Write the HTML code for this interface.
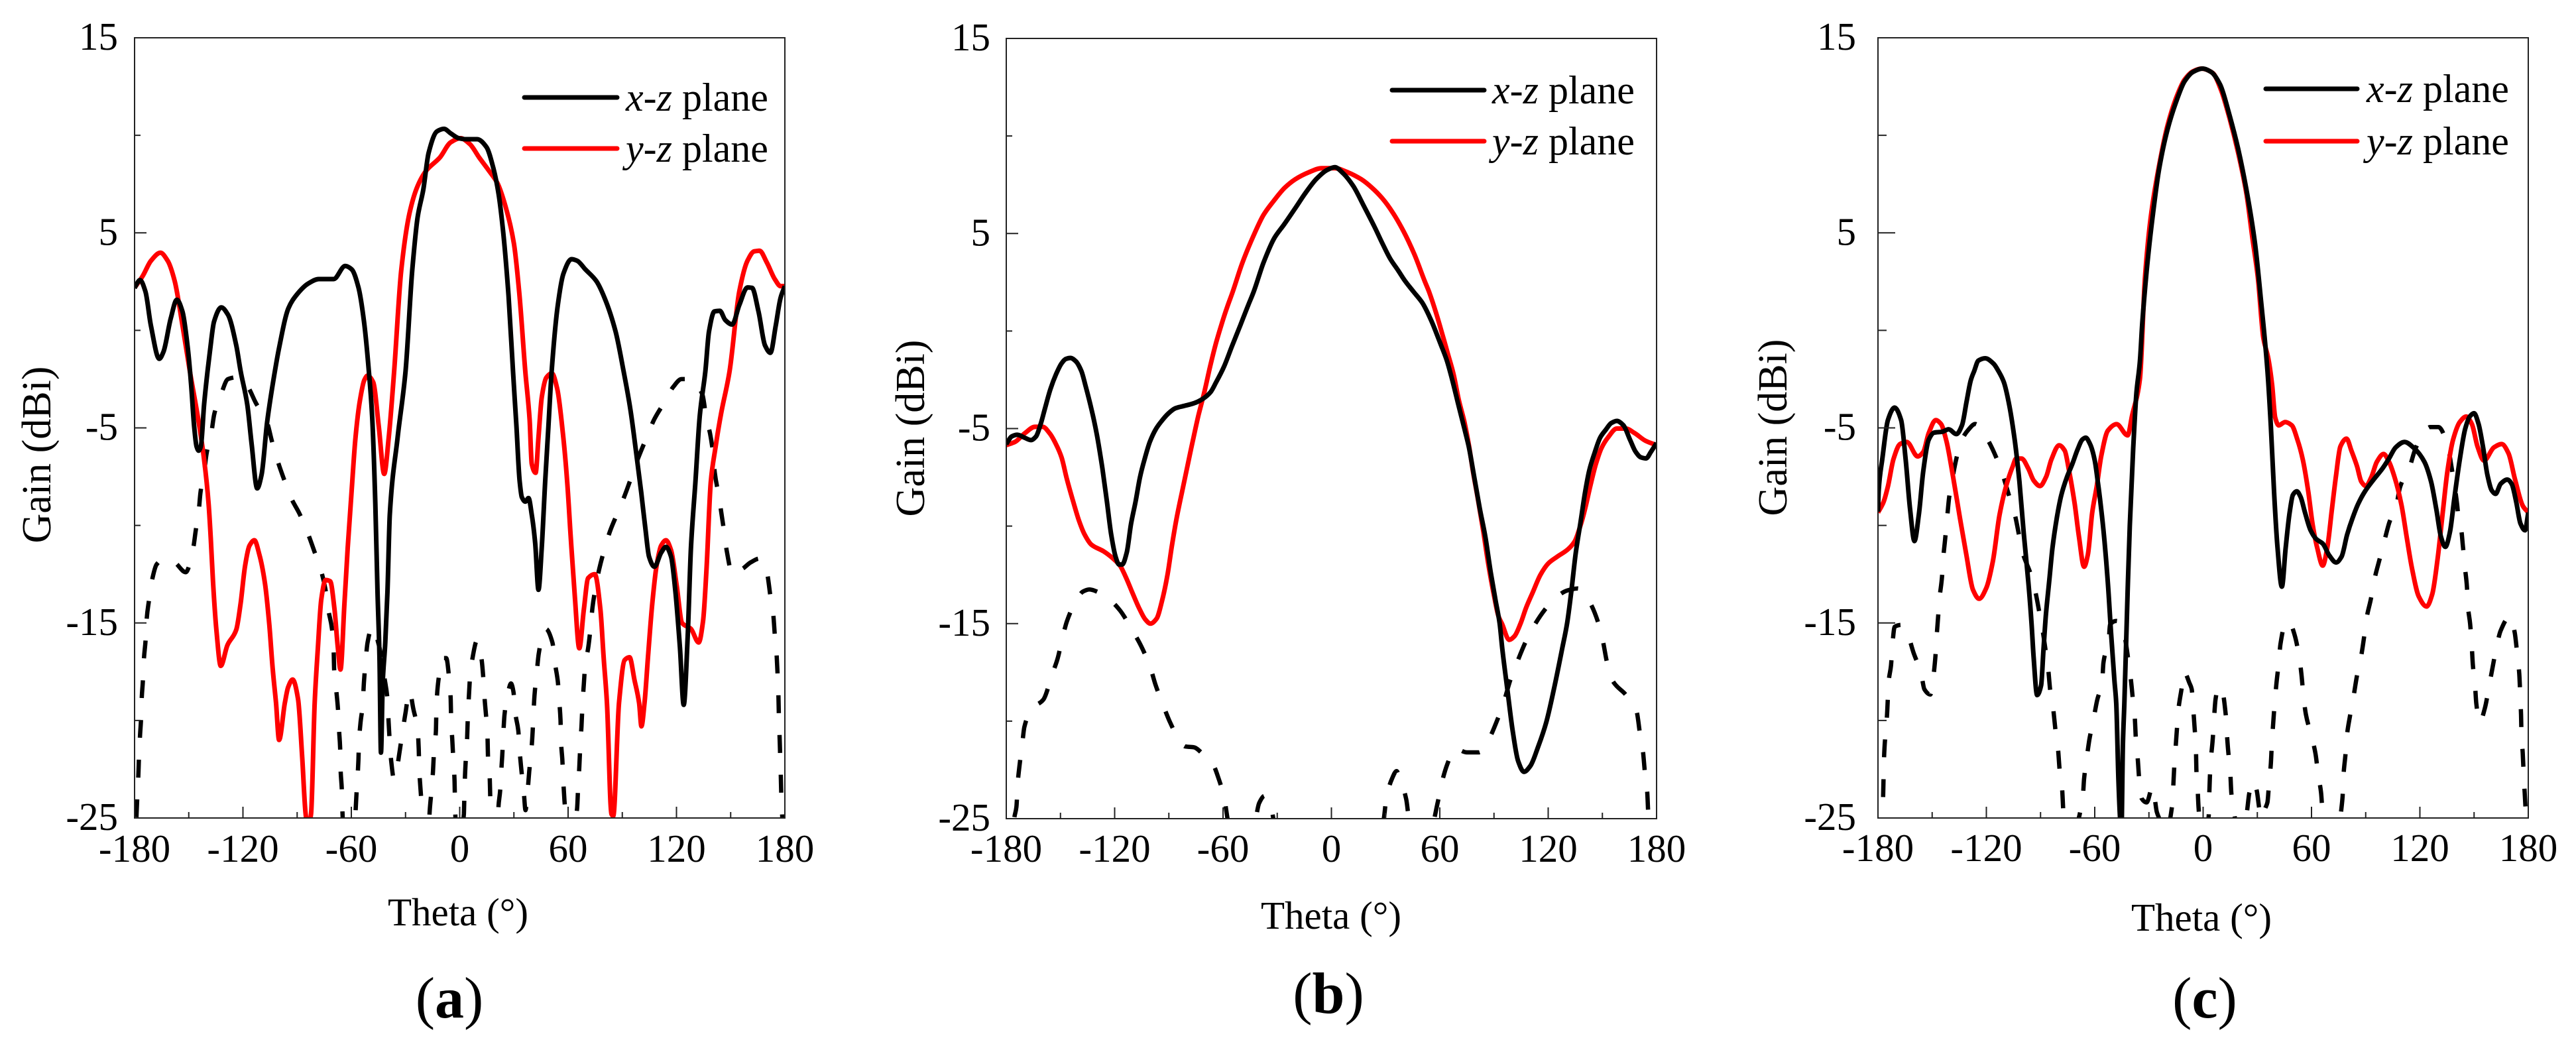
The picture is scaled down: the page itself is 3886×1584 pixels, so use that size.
<!DOCTYPE html>
<html lang="en">
<head>
<meta charset="utf-8">
<title>Gain patterns</title>
<style>
html,body{margin:0;padding:0;background:#fff;width:3886px;height:1584px;overflow:hidden}
svg{display:block}
text{font-family:"Liberation Serif","DejaVu Serif",serif;fill:#000}
</style>
</head>
<body>
<svg id="figure" xmlns="http://www.w3.org/2000/svg" width="3886" height="1584" viewBox="0 0 3886 1584"></svg>
<script>
const thetaTicks = [-180, -120, -60, 0, 60, 120, 180];
const thetaMinorTicks = [-150, -90, -30, 30, 90, 150];
const gainTicks = [15, 5, -5, -15, -25];
const gainMinorTicks = [10, 0, -10, -20];

const panelAXz = [[-180,2.18],[-177,2.58],[-174,2],[-171,0.27],[-166.3,-1.46],[-164,-1.1],[-160,0.6],[-156.6,1.57],[-153.5,0.97],[-150.5,-0.94],[-148.8,-2.66],[-147,-4.93],[-145.7,-5.95],[-144.5,-6.17],[-143.3,-5.95],[-141.5,-3.8],[-139.6,-2.09],[-138.3,-1.1],[-136,0.45],[-132,1.18],[-128.3,0.8],[-123.7,-0.77],[-121.3,-2.09],[-117.6,-3.8],[-115.2,-5.83],[-112.1,-8.1],[-109.7,-7.4],[-106.6,-4.7],[-102.3,-2.09],[-100,-0.9],[-94.8,1.14],[-90.2,1.83],[-84,2.39],[-78,2.63],[-69.8,2.63],[-63.4,3.3],[-59.8,3.13],[-56,2.18],[-53,0.45],[-50.3,-2.09],[-48.5,-4.36],[-46.7,-8.9],[-45.5,-13.4],[-44.4,-16.8],[-43.6,-21.65],[-42.6,-18],[-41.2,-16],[-40,-13.4],[-38.7,-9.46],[-34.4,-5.5],[-30,-2.09],[-26.3,3.05],[-23.3,5.8],[-20.2,7.2],[-17.2,9.1],[-12.6,10.2],[-8.7,10.33],[-5,10.1],[-0.5,9.85],[3.5,9.8],[9.6,9.8],[14.8,9.4],[18.4,8.4],[21.5,7],[24,5.1],[27,1.8],[29.5,-2.09],[31.4,-4.93],[33.2,-7.76],[34.4,-8.55],[36.3,-8.78],[38.1,-8.6],[39.9,-9.46],[41.8,-10.93],[43.6,-13.3],[45.4,-11.16],[47.3,-7.76],[49.1,-4.93],[50.9,-2.09],[54.3,1.3],[57.4,2.9],[61.9,3.65],[65,3.57],[69.5,3.13],[75.6,2.53],[80.2,1.66],[86.3,-0.07],[90.7,-2.09],[94.4,-4],[97.4,-6.06],[100.5,-8.33],[102.9,-10.25],[104.8,-11.6],[107.8,-12.12],[111.5,-11.4],[114.2,-11.1],[117,-11.6],[119.4,-13.4],[121.9,-16.25],[124,-19.2],[126.2,-15.7],[128,-11.16],[130.5,-7.76],[132.9,-4.36],[136,-2.09],[138,-0.07],[141,0.97],[144,1],[147,0.53],[150.8,0.3],[154.8,1.3],[159.3,2.2],[161.8,2.18],[165.4,0.97],[169,-0.77],[172,-1.15],[175,0.27],[177.6,1.66],[180,2.27]];
const panelAYz = [[-180,2.18],[-175.4,2.8],[-170.9,3.57],[-165.7,3.98],[-161.7,3.57],[-157.8,2.53],[-153.5,0.27],[-149.4,-2.09],[-144.5,-4.7],[-141.5,-6.63],[-139,-8.9],[-137.8,-10.7],[-136.6,-12.86],[-134.7,-15.35],[-132.3,-17.2],[-128.6,-16.14],[-123.7,-15.35],[-121.3,-14],[-118.8,-12.06],[-116.4,-11.04],[-113.7,-10.76],[-110.9,-11.5],[-107.8,-12.97],[-105.4,-15.1],[-103.5,-17.39],[-101.7,-19.1],[-100,-21],[-96.8,-19.1],[-95,-18.3],[-92.5,-17.9],[-89.5,-18.9],[-87.2,-21.9],[-85.3,-24.8],[-84.1,-25.5],[-82.3,-24.8],[-80.3,-19.1],[-78.5,-16.25],[-76.6,-13.76],[-74.2,-12.8],[-71.7,-12.86],[-69.3,-14.33],[-67.5,-16.25],[-66,-17.39],[-63.8,-14],[-62,-11.16],[-59.5,-7.76],[-57.7,-5.5],[-55.2,-3.57],[-52.8,-2.55],[-51,-2.32],[-47.9,-2.66],[-44.8,-4.93],[-41.8,-7.36],[-39.3,-5.5],[-36.3,-2.09],[-32.4,3.05],[-27.8,6],[-23.3,7.4],[-18.7,8.17],[-11,8.86],[-5,9.64],[0.5,9.85],[5.6,9.55],[10.8,8.86],[16.3,8.17],[20.8,7.56],[25.4,6.34],[30,4.44],[33,1.9],[36.3,-2.09],[38.7,-4.6],[39.9,-6.85],[42,-7.3],[43.6,-5.5],[45.4,-3.45],[47.9,-2.43],[51,-2.2],[54,-3],[57.1,-5.27],[59.5,-7.76],[61.3,-10.36],[63.8,-13.76],[66.2,-16.3],[68.7,-14.33],[71.1,-12.7],[74.8,-12.5],[77.9,-14.33],[79.7,-16.8],[81.5,-19.1],[84,-24.8],[85,-24.9],[88.2,-19.1],[91.3,-16.9],[94,-16.76],[96.8,-17.95],[99.3,-19.1],[100.6,-20.3],[102.3,-19.1],[104.2,-16.8],[106.6,-14],[109,-12.06],[111.5,-11.04],[114.2,-10.76],[117,-11.27],[120.1,-13.08],[123.1,-15],[128,-15.3],[132.3,-16],[134.7,-14.9],[136.6,-12.3],[139,-7.76],[141.5,-6.06],[144.5,-4.36],[149.4,-2.09],[154.8,2],[159.3,3.57],[163,4.05],[166,4.08],[170,3.48],[174.6,2.6],[177.6,2.27],[180,2.27]];
const panelACross = [[-179.6,-27],[-178.9,-24.8],[-177.9,-22.8],[-177.6,-22],[-177,-20.8],[-176.4,-19.9],[-176,-18.8],[-175.4,-18],[-174.8,-16.8],[-173.9,-15.9],[-173.3,-14.8],[-172.1,-13.9],[-170.3,-12.8],[-167.8,-12],[-163.3,-11.7],[-157.8,-11.9],[-151.7,-12.4],[-147.4,-11.1],[-146.2,-10.3],[-144.4,-9.2],[-143.5,-8.3],[-141.4,-7.2],[-140.1,-6.3],[-137.4,-5.2],[-135.9,-4.3],[-132.2,-3.3],[-128.3,-2.5],[-123.1,-2.4],[-117.6,-2.85],[-113,-3.7],[-106.4,-4.8],[-104.2,-5.6],[-100.6,-6.75],[-97.8,-7.5],[-93.3,-8.6],[-88.7,-9.4],[-84.1,-10.4],[-80.4,-11.35],[-76.5,-12.4],[-74.4,-13.25],[-72.6,-14.4],[-70.7,-15.3],[-69.8,-16.4],[-69.5,-17.4],[-68.3,-18.5],[-67.4,-19.4],[-66.8,-20.5],[-66.2,-21.4],[-65.9,-22.6],[-65.3,-23.5],[-65,-24.5],[-64.3,-25.7],[-61.3,-26.6],[-58.3,-25.7],[-57.3,-24],[-56.1,-22.1],[-55.8,-21.2],[-54.9,-20.1],[-53.7,-19.2],[-53,-18],[-52.2,-17.1],[-51,-16],[-48.5,-15.2],[-44.6,-16.2],[-41.5,-17.9],[-40,-18.9],[-39.4,-20],[-38.8,-21],[-37.9,-22.1],[-36.4,-23],[-34.8,-22.5],[-33.3,-21.6],[-31.5,-20.5],[-30,-19.6],[-27.8,-18.5],[-25.7,-19.4],[-23.3,-20.5],[-22.7,-21.4],[-22.4,-22.5],[-21.8,-23.4],[-20.9,-24.5],[-20.5,-25.1],[-18.7,-25.9],[-16.9,-25.1],[-16.6,-24.6],[-15.4,-23.4],[-14.8,-22.6],[-14.1,-21.4],[-13.2,-20.6],[-12.9,-19.4],[-12.4,-18.5],[-10.9,-17.4],[-9.6,-16.8],[-7.5,-16.8],[-5.6,-18.1],[-5,-18.9],[-4.7,-20.1],[-4.1,-21],[-3.5,-22.1],[-2.9,-23],[-2.6,-24.2],[-2.3,-25.1],[0.2,-25.9],[2.3,-24.8],[2.6,-23.8],[2.9,-22.9],[3.5,-21.8],[4.1,-20.9],[4.5,-19.8],[5,-18.9],[5.7,-17.8],[6.9,-16.9],[9.6,-15.9],[12,-16.8],[13.2,-18],[13.8,-18.9],[14.8,-20],[15.4,-20.9],[15.7,-22],[16.6,-22.9],[16.9,-24],[17.2,-25.1],[19.3,-25.7],[21.2,-25.1],[21.4,-24.5],[22.4,-23.6],[23,-22.6],[23.6,-21.7],[24.2,-20.6],[24.8,-19.7],[26.9,-18.5],[28.4,-18.1],[29.7,-18.5],[30.9,-19.7],[32.4,-20.5],[33.3,-21.7],[34.2,-22.6],[35.5,-23.7],[36.4,-24.6],[37.6,-23.6],[38.5,-22.6],[39.7,-21.5],[40.3,-20.7],[40.9,-19.5],[41.5,-18.6],[42.8,-17.4],[43.7,-16.6],[46.7,-15.4],[47.6,-15.3],[51.3,-16],[52.8,-17.1],[54.3,-18],[55.2,-19.1],[55.8,-20],[56.1,-21.1],[56.8,-22],[57.4,-23.2],[58,-24.1],[58.9,-25.1],[61,-26],[64.1,-25.1],[65,-24.5],[65.6,-23.3],[66.2,-22.4],[66.8,-21.2],[67.4,-20.3],[68,-19.1],[68.6,-18.3],[69.5,-17.1],[71.1,-16.3],[72.6,-15.1],[73.5,-14.2],[75.6,-13],[77.2,-12.25],[80.2,-11.2],[83.2,-10.3],[87.8,-9.27],[91.5,-8.43],[96,-7.27],[99,-6.5],[103.9,-5.4],[107.6,-4.58],[113.7,-3.63],[118.2,-2.9],[122.8,-2.5],[127.4,-2.5],[134.4,-3.3],[136.5,-4.5],[138.6,-5.3],[140.5,-6.5],[141.2,-7.3],[143.5,-8.5],[144.7,-9.27],[146.5,-10.4],[147.8,-11.3],[151,-12.5],[156.9,-12.2],[161,-11.9],[166,-11.7],[170,-12.4],[172.1,-13.7],[173.6,-14.6],[174.5,-15.7],[175.4,-16.6],[176,-17.7],[176.4,-18.6],[176.7,-19.8],[177,-20.6],[177.4,-21.8],[177.7,-22.6],[178,-23.8],[178.4,-24.6],[179,-26]];

const panelBXz = [[-180,-5.8],[-176.9,-5.4],[-173.9,-5.32],[-169.6,-5.48],[-166.3,-5.59],[-163.5,-5.4],[-161,-4.78],[-158.6,-3.98],[-155.5,-2.96],[-152.5,-2.23],[-149.4,-1.66],[-147,-1.43],[-144.5,-1.38],[-141.5,-1.55],[-138.4,-2.06],[-136,-2.85],[-132.9,-3.98],[-129.8,-5.34],[-126.8,-7.04],[-124.3,-8.74],[-121.9,-10.44],[-119.5,-11.57],[-117.6,-11.97],[-115.8,-11.97],[-113.3,-11.35],[-110.9,-9.87],[-108.4,-8.74],[-106,-7.5],[-103.5,-6.59],[-100.5,-5.68],[-97.4,-5.06],[-94.4,-4.66],[-90.1,-4.21],[-86.4,-3.96],[-82.1,-3.85],[-76,-3.7],[-71.1,-3.47],[-66.9,-3.13],[-63.8,-2.62],[-59.5,-1.83],[-55.2,-0.81],[-50.3,0.32],[-46,1.34],[-43,2.02],[-37.6,3.5],[-31.7,4.75],[-25.9,5.5],[-20,6.3],[-14.2,7.1],[-8.3,7.8],[-2.5,8.25],[1.9,8.4],[6.3,8.1],[12.1,7.43],[18,6.4],[23.8,5.35],[28.2,4.5],[32.6,3.7],[37,3.1],[40.5,2.6],[45.4,2.02],[50.3,1.45],[55.2,0.55],[60.1,-0.59],[63.8,-1.49],[66.9,-2.51],[69.9,-3.64],[73.6,-5],[76,-5.91],[79.1,-7.5],[82.1,-9.08],[85.2,-10.55],[88.2,-12.37],[90.7,-13.73],[93.1,-14.97],[94.6,-16.3],[97.5,-18.45],[100.5,-20.6],[103.4,-22.06],[106.6,-22.6],[110.1,-22.3],[114.5,-21.3],[118.9,-20.07],[123.3,-18.3],[127.7,-16.3],[130.5,-14.97],[132.9,-13.27],[135.3,-11.35],[137.8,-9.87],[140.2,-8.4],[142.7,-7.16],[145.7,-6.25],[148.8,-5.46],[151.9,-5.06],[154.9,-4.72],[158,-4.61],[161.6,-4.83],[165.3,-5.57],[168.4,-6.19],[171.4,-6.48],[174.2,-6.53],[176.9,-6.19],[180,-5.74]];
const panelBYz = [[-180,-5.85],[-175.1,-5.68],[-169.6,-5.23],[-164.1,-4.91],[-159.8,-4.91],[-156.1,-5.23],[-152.5,-5.8],[-149.4,-6.48],[-146.4,-7.61],[-143.3,-8.63],[-139.6,-9.76],[-136.6,-10.44],[-132.9,-10.95],[-126.2,-11.29],[-121.3,-11.63],[-117,-12.03],[-113.9,-12.6],[-110.3,-13.39],[-106.6,-14.18],[-102.9,-14.8],[-100.2,-15],[-96.8,-14.75],[-93.8,-13.84],[-90.7,-12.48],[-88.3,-11],[-85.8,-9.65],[-82.8,-8.29],[-79.7,-6.93],[-76.6,-5.57],[-73.6,-4.32],[-70.5,-3.19],[-66.9,-1.72],[-63.8,-0.59],[-60.7,0.38],[-57.7,1.23],[-54.6,2.02],[-49.3,3.5],[-43.4,4.83],[-37.6,5.95],[-31.7,6.7],[-25.9,7.34],[-20,7.78],[-12.7,8.13],[-5.4,8.35],[1.9,8.35],[9.2,8.13],[16.5,7.78],[22.4,7.35],[28.2,6.8],[34.1,6.05],[40,5.1],[45.8,3.96],[51.6,2.57],[54,2.02],[57.7,1],[61.3,-0.13],[64.4,-1.15],[67.5,-2.17],[70.5,-3.53],[73.6,-4.66],[76,-5.8],[78.5,-7.27],[80.9,-8.52],[84,-10.22],[87,-12.03],[90.1,-13.6],[92.5,-14.63],[94.4,-15],[98.4,-15.83],[101.3,-15.65],[104.8,-14.97],[107.8,-14.18],[111.5,-13.39],[115.8,-12.48],[120.1,-11.91],[125,-11.57],[131.1,-11.18],[134.7,-10.78],[137.8,-9.99],[140.2,-9.2],[143.3,-7.95],[146.4,-6.82],[149.4,-6.02],[153.1,-5.46],[158,-5],[162.9,-5],[167.8,-5.23],[173.9,-5.63],[180,-5.85]];
const panelBCross = [[-177.5,-29],[-175.6,-25],[-174.4,-24.4],[-173.6,-23.1],[-172.7,-22.3],[-171.2,-21.2],[-170,-20.3],[-165.7,-19.35],[-159.5,-18.9],[-154.6,-17.6],[-151.6,-16.8],[-148.7,-15.65],[-146.4,-14.87],[-141.4,-13.84],[-137.6,-13.36],[-134,-13.25],[-128.8,-13.4],[-123,-13.75],[-117,-14.33],[-110,-15.38],[-105.4,-16.14],[-100.2,-17.27],[-97.5,-18.1],[-93.1,-19.2],[-89.6,-20],[-84.4,-20.94],[-80.9,-21.3],[-76.2,-21.34],[-71,-21.7],[-65.9,-22.15],[-62.4,-22.96],[-59.2,-24],[-57.5,-25],[-55,-26],[-48,-26.2],[-43,-25.5],[-40,-24.2],[-37,-23.83],[-34,-24.2],[-30,-26],[0,-29],[25,-26],[29,-25],[30.3,-24],[33.5,-22.96],[36.1,-22.56],[37.9,-22.96],[41.4,-24],[42.9,-25],[45.8,-26],[54.5,-25.7],[59,-24.1],[61,-23.2],[64.2,-22.2],[68.3,-21.4],[75,-21.6],[81.7,-21.6],[86.7,-21],[92,-19.9],[95.5,-19],[99,-17.9],[102.3,-17.1],[107.2,-16],[111,-15.3],[118,-14.3],[123.8,-13.7],[130.6,-13.3],[136.4,-13.2],[139.4,-13.4],[143.2,-13.93],[148.2,-15.1],[150.3,-15.9],[152.6,-17],[155.5,-17.9],[163.4,-18.7],[167.1,-19.26],[168.9,-19.5],[170.9,-20.7],[172.4,-21.5],[173.6,-22.7],[174.8,-23.6],[175.4,-24.8],[176.5,-27]];

const panelCXz = [[-180,-9.3],[-179.6,-8.2],[-177.6,-6.6],[-174.5,-4.6],[-170.8,-3.96],[-167.2,-4.6],[-164.7,-6.6],[-162.3,-9.1],[-159.8,-10.8],[-157.4,-9.46],[-154.9,-7.2],[-151.9,-5.6],[-148.8,-5.24],[-144.5,-5.2],[-140.9,-5.07],[-136.6,-5.32],[-133.5,-4.87],[-131,-3.68],[-128.6,-2.55],[-126.8,-2.1],[-124.4,-1.55],[-120.6,-1.43],[-115.9,-1.72],[-113.3,-2.09],[-110.3,-2.66],[-107.2,-3.9],[-104.2,-5.7],[-101.7,-7.76],[-99.3,-10.4],[-96.8,-12.86],[-95,-15],[-93.8,-16.8],[-91.9,-18.7],[-89.7,-18.2],[-88.3,-16.25],[-87,-14.55],[-85.2,-12.86],[-83.4,-11.16],[-80.9,-9.57],[-78.5,-8.44],[-75.4,-7.53],[-72.4,-6.85],[-69.3,-6.06],[-66.9,-5.6],[-65,-5.5],[-62.6,-5.83],[-60.1,-6.62],[-58.3,-7.76],[-56.5,-9.1],[-54.6,-10.8],[-52.8,-12.86],[-51,-15.46],[-49.1,-17.95],[-48.1,-19.1],[-46.9,-23],[-46,-25],[-45.3,-26],[-44.4,-21.2],[-43.6,-19.1],[-41.8,-13.4],[-40.6,-10],[-38.7,-6.06],[-36.9,-3.2],[-35,-1.6],[-33.75,0.27],[-31.25,3.05],[-28,5.8],[-24.4,8.25],[-19.7,10.3],[-15,11.7],[-10.3,12.76],[-5.6,13.25],[-0.3,13.42],[4.4,13.25],[9.4,12.6],[14.7,11],[19.4,9.3],[24,7.2],[28.75,4.44],[31.9,1.66],[35.65,-2.09],[37.5,-4.93],[39.3,-8.33],[41.2,-11.16],[43.6,-13.14],[45.7,-11.16],[47.9,-9.34],[49.7,-8.44],[51.8,-8.25],[54,-8.55],[56.4,-9.34],[59.5,-10.25],[62.6,-10.7],[66.2,-10.93],[69.9,-11.55],[73.6,-11.9],[76.6,-11.61],[79.7,-10.48],[82.7,-9.63],[85.8,-8.9],[89.5,-8.27],[94.4,-7.65],[99.3,-7.08],[102.9,-6.57],[106.6,-6],[111.5,-5.72],[117,-6.06],[122.5,-6.74],[126.2,-7.76],[129.2,-9.23],[131.7,-10.6],[134.1,-11.1],[136.6,-10.36],[139,-8.66],[142.1,-6.62],[145.1,-5.04],[147.6,-4.42],[150,-4.25],[152.5,-4.81],[154.9,-5.95],[157.4,-7.42],[159.8,-8.21],[161.9,-8.38],[164.7,-7.87],[168.4,-7.65],[170.8,-7.87],[173.3,-8.78],[175.7,-9.91],[178.2,-10.25],[180,-9.34]];
const panelCYz = [[-180,-9.34],[-176.9,-8.8],[-174.5,-8],[-171.4,-6.6],[-167.8,-5.83],[-164.1,-5.72],[-158,-6.46],[-154.9,-6.23],[-151.9,-5.27],[-148,-4.6],[-145.1,-4.8],[-142,-5.72],[-138.4,-7.53],[-134.7,-9.57],[-131.1,-11.5],[-127.4,-13.3],[-124,-13.76],[-120,-13.2],[-116.4,-11.84],[-112.7,-9.46],[-109.1,-8],[-105.4,-6.97],[-103.5,-6.57],[-100.5,-6.57],[-96.8,-7.08],[-93.8,-7.7],[-90.3,-7.98],[-87,-7.53],[-84,-6.62],[-79.7,-5.89],[-76.6,-6.17],[-74.2,-7.2],[-71.1,-8.9],[-68.7,-10.6],[-65.9,-12.12],[-63.8,-11.5],[-61.4,-9.34],[-58.9,-8],[-56.5,-6.5],[-52.8,-5.15],[-47.9,-4.81],[-41.8,-5.38],[-39.3,-4.36],[-35,-2.5],[-32.2,2.7],[-29,5.8],[-24.4,8.43],[-19.7,10.5],[-15,11.9],[-10.3,12.85],[-5.6,13.28],[-0.9,13.42],[5.3,13.2],[10,12.3],[14.7,10.85],[19.4,9.1],[24,7],[27.2,4.8],[30.3,2.7],[33.4,-0.42],[36,-1.4],[38.2,-2.8],[39.9,-4.47],[41.8,-4.87],[45.4,-4.7],[49.1,-4.87],[52.2,-5.6],[55.2,-6.63],[58.3,-8.33],[60.7,-10],[63.2,-11.16],[66.2,-12.06],[68.7,-11.16],[71.1,-9.34],[73.6,-7.42],[76,-5.95],[79.4,-5.55],[82.1,-6.17],[85.2,-6.97],[87.6,-7.76],[90.1,-7.98],[93.1,-7.53],[96.2,-6.74],[99.9,-6.34],[102.9,-6.74],[106,-7.53],[109.7,-8.9],[112.7,-10.6],[115.8,-12.29],[119.4,-13.65],[123.7,-14.16],[126.8,-13.54],[129.8,-11.72],[132.9,-9.12],[135.3,-7.19],[138.4,-5.6],[142.1,-4.7],[145.7,-4.42],[148.8,-4.81],[151.9,-5.95],[155.5,-6.68],[161,-6],[165.3,-5.83],[169,-6.29],[172.7,-7.65],[177,-9],[180,-9.34]];
const panelCCross = [[-179,-28],[-177.2,-24.1],[-176.6,-21.8],[-176.25,-21.2],[-175,-19.75],[-174,-17.95],[-172.8,-17.2],[-171.9,-16],[-170.8,-15.2],[-167,-15.1],[-163.5,-15.6],[-160.4,-16.5],[-156.1,-17.6],[-154.3,-18.4],[-151,-18.67],[-149.4,-17.8],[-148.2,-16.7],[-147.6,-15.8],[-146.7,-14.7],[-146,-13.8],[-144.5,-12.6],[-143.9,-11.7],[-142.7,-10.6],[-141.8,-9.7],[-140.6,-8.55],[-139,-7.7],[-136.6,-6.57],[-134.1,-5.72],[-130,-5.1],[-126.2,-4.8],[-120,-5.5],[-114,-6.63],[-110.9,-7.42],[-107.2,-8.55],[-104.2,-9.46],[-101.7,-10.6],[-99.9,-11.4],[-95.6,-12.46],[-93.1,-13.3],[-90.7,-14.44],[-88.9,-15.35],[-87,-16.54],[-85.8,-17.33],[-84.6,-18.5],[-83.4,-19.1],[-81.6,-20.6],[-80.3,-21.5],[-79.4,-22.56],[-78.1,-23.46],[-77.5,-24.5],[-77.2,-25.1],[-71,-25.4],[-66.6,-23.9],[-65.9,-23],[-64.4,-21.9],[-63,-21],[-60.6,-19.9],[-58.75,-19],[-55.8,-17.9],[-55.2,-17.05],[-52.2,-15.9],[-51.6,-15.1],[-48,-14.9],[-44.8,-15.1],[-43,-15.9],[-41.2,-17.05],[-40,-17.9],[-38.7,-19.1],[-37.8,-19.9],[-37.2,-21],[-36.25,-21.9],[-35.3,-23.1],[-34,-24],[-31.25,-24.2],[-28,-23.4],[-25.6,-24.7],[-24.4,-25],[-20.6,-25.7],[-17.2,-24.4],[-16.6,-23.5],[-16,-22.4],[-15.3,-21.5],[-14.4,-20.3],[-13.75,-19.5],[-11.8,-18.3],[-10.6,-17.5],[-7.5,-18.1],[-6.3,-18.4],[-5.7,-19.1],[-4.7,-20.4],[-4,-21.3],[-3.75,-22.5],[-3.1,-23.4],[-2.5,-24.5],[-1.9,-25.1],[1,-25.7],[3.1,-24.9],[3.4,-23.8],[3.75,-22.9],[4.3,-22],[5.3,-21],[5.9,-20.1],[6.9,-18.9],[8.4,-18.3],[10,-18.3],[12.5,-19.7],[13.1,-20.6],[14,-21.7],[15,-22.6],[15.6,-23.7],[16.9,-24.6],[19.4,-25.7],[24,-24.8],[25.6,-23.7],[27.8,-23.1],[29.7,-23.6],[31.25,-24.6],[32.5,-25],[34.4,-24.5],[35.6,-24.2],[36.6,-23.1],[37.5,-22.2],[38.1,-21.1],[38.75,-20.2],[39.7,-19],[40.6,-18.1],[41.9,-17],[42.8,-16.1],[46,-14.93],[48.1,-15],[50.6,-15.6],[53.1,-16.7],[54.4,-17.6],[55.6,-18.8],[56.9,-19.7],[60,-20.8],[62.2,-21.7],[63.75,-22.8],[65.3,-23.7],[66.25,-24.9],[67.8,-25.7],[75.6,-25.6],[76.25,-24.8],[77.2,-23.9],[77.8,-22.7],[78.75,-21.8],[79.7,-20.7],[81.25,-19.8],[83.4,-18.7],[85,-17.8],[87.5,-16.7],[89,-15.8],[90.6,-14.7],[92.8,-13.8],[95,-12.7],[97.5,-11.8],[100.6,-10.7],[103.1,-9.85],[106.9,-9],[109,-8.05],[114.7,-6.9],[117.2,-6.15],[122.5,-5.2],[125.6,-4.96],[130.3,-4.96],[135.9,-6.15],[137.5,-7],[140.6,-8.9],[141.9,-10.1],[142.8,-10.2],[143.75,-11],[145,-12.2],[146,-13.07],[146.6,-14.15],[147.8,-15.05],[148.75,-16.2],[149.3,-17.1],[150.6,-18.3],[151.2,-19.1],[153.1,-20.1],[155.9,-19.4],[158.4,-18.2],[160,-17.4],[162.5,-16.2],[164.7,-15.4],[170,-14.65],[172.5,-15.5],[174,-16.7],[175,-17.6],[175.6,-18.8],[176,-19.7],[176.25,-20.8],[176.9,-21.65],[177.5,-22.8],[178,-23.7],[178.75,-24.9],[179.4,-26]];

const svgNS = 'http://www.w3.org/2000/svg';
const figure = document.getElementById('figure');

function make(parent, tag, attrs, content) {
  const el = document.createElementNS(svgNS, tag);
  for (const k in attrs) el.setAttribute(k, attrs[k]);
  if (content !== undefined) el.textContent = content;
  parent.appendChild(el);
  return el;
}

// monotone cubic through the data points, passing each extremum flat
function curvePath(points, xScale, yScale) {
  const px = points.map(p => xScale(p[0]));
  const py = points.map(p => yScale(p[1]));
  const n = px.length;
  const slope = [];
  for (let i = 0; i < n - 1; i++) slope.push((py[i + 1] - py[i]) / (px[i + 1] - px[i]));
  const tangent = [slope[0]];
  for (let i = 1; i < n - 1; i++) {
    if (slope[i - 1] * slope[i] <= 0) { tangent.push(0); continue; }
    const h0 = px[i] - px[i - 1], h1 = px[i + 1] - px[i];
    const w0 = 2 * h1 + h0, w1 = h1 + 2 * h0;
    tangent.push((w0 + w1) / (w0 / slope[i - 1] + w1 / slope[i]));
  }
  tangent.push(slope[n - 2]);
  let d = 'M' + px[0].toFixed(1) + ' ' + py[0].toFixed(1);
  for (let i = 0; i < n - 1; i++) {
    const h = (px[i + 1] - px[i]) / 3;
    d += 'C' + (px[i] + h).toFixed(1) + ' ' + (py[i] + h * tangent[i]).toFixed(1) + ' ' +
         (px[i + 1] - h).toFixed(1) + ' ' + (py[i + 1] - h * tangent[i + 1]).toFixed(1) + ' ' +
         px[i + 1].toFixed(1) + ' ' + py[i + 1].toFixed(1);
  }
  return d;
}

function drawPanel(g, xzValues, yzValues, crossValues) {
  const panel = make(figure, 'g', {});
  
  

  const w = g.right - g.left, h = g.bottom - g.top;
  const xScale = t => g.left + (t + 180) / 360 * w;
  const yScale = v => g.top + (15 - v) / 40 * h;

  const clip = make(panel, 'clipPath', { id: 'clip-' + g.id });
  make(clip, 'rect', { x: g.left, y: g.top, width: w, height: h });

  const plot = make(panel, 'g', { 'clip-path': 'url(#clip-' + g.id + ')', fill: 'none', 'stroke-linejoin': 'round' });
  
  

  const crossLine = make(plot, 'path', { d: curvePath(crossValues, xScale, yScale), stroke: '#000', 'stroke-width': 6.5, 'stroke-dasharray': '27 33', 'stroke-dashoffset': g.dashOffset });
  
  

  const yzLine = make(plot, 'path', { d: curvePath(yzValues, xScale, yScale), stroke: '#ff0000', 'stroke-width': 7 });
  
  

  const xzLine = make(plot, 'path', { d: curvePath(xzValues, xScale, yScale), stroke: '#000', 'stroke-width': 7 });
  
  

  const frame = make(panel, 'rect', { x: g.left, y: g.top, width: w, height: h, fill: 'none', stroke: '#222', 'stroke-width': 2 });
  
  

  thetaTicks.forEach(t => {
    const tick = make(panel, 'line', { x1: xScale(t), x2: xScale(t), y1: g.bottom, y2: g.bottom - 17, stroke: '#222', 'stroke-width': 2 });
    
    
    const label = make(panel, 'text', { x: xScale(t), y: g.xLabelY, 'text-anchor': 'middle', 'font-size': 59 }, String(t));
    
    
  });
  thetaMinorTicks.forEach(t => {
    const tick = make(panel, 'line', { x1: xScale(t), x2: xScale(t), y1: g.bottom, y2: g.bottom - 9, stroke: '#222', 'stroke-width': 2 });
    
    
  });
  gainTicks.forEach(v => {
    const tick = make(panel, 'line', { x1: g.left, x2: g.left + g.yTick, y1: yScale(v), y2: yScale(v), stroke: '#222', 'stroke-width': 2 });
    
    
    const label = make(panel, 'text', { x: g.yLabelX, y: yScale(v) + 18, 'text-anchor': 'end', 'font-size': 59 }, String(v));
    
    
  });
  gainMinorTicks.forEach(v => {
    const tick = make(panel, 'line', { x1: g.left, x2: g.left + g.yTick / 2, y1: yScale(v), y2: yScale(v), stroke: '#222', 'stroke-width': 2 });
    
    
  });

  const xTitle = make(panel, 'text', { x: g.xTitleX, y: g.xTitleY, 'text-anchor': 'middle', 'font-size': 59 }, 'Theta (°)');
  
  

  const yTitle = make(panel, 'text', { transform: 'translate(' + g.yTitleX + ' ' + g.yTitleY + ') rotate(-90)', 'text-anchor': 'middle', 'font-size': 62 }, 'Gain (dBi)');
  
  

  const caption = make(panel, 'text', { x: g.captionX, y: g.captionY, 'text-anchor': 'middle', 'font-size': 88 });
  
  
  make(caption, 'tspan', {}, '(');
  make(caption, 'tspan', { 'font-weight': 'bold' }, g.id);
  make(caption, 'tspan', {}, ')');

  const legend = make(panel, 'g', {});
  
  

  const xzKey = make(legend, 'line', { x1: g.legendLineX1, x2: g.legendLineX2, y1: g.legendY1, y2: g.legendY1, stroke: '#000', 'stroke-width': 7, 'stroke-linecap': 'round' });
  
  
  const xzText = make(legend, 'text', { x: g.legendTextX, y: g.legendY1 + 20, 'font-size': 60 });
  
  
  make(xzText, 'tspan', { 'font-style': 'italic' }, 'x');
  make(xzText, 'tspan', {}, '-');
  make(xzText, 'tspan', { 'font-style': 'italic' }, 'z');
  make(xzText, 'tspan', {}, ' plane');

  const yzKey = make(legend, 'line', { x1: g.legendLineX1, x2: g.legendLineX2, y1: g.legendY2, y2: g.legendY2, stroke: '#ff0000', 'stroke-width': 7, 'stroke-linecap': 'round' });
  
  
  const yzText = make(legend, 'text', { x: g.legendTextX, y: g.legendY2 + 20, 'font-size': 60 });
  
  
  make(yzText, 'tspan', { 'font-style': 'italic' }, 'y');
  make(yzText, 'tspan', {}, '-');
  make(yzText, 'tspan', { 'font-style': 'italic' }, 'z');
  make(yzText, 'tspan', {}, ' plane');
}

drawPanel({ id: 'a', left: 203, right: 1184, top: 57, bottom: 1234, yTick: 18, yLabelX: 178, xLabelY: 1300,
  xTitleX: 691, xTitleY: 1396, yTitleX: 76, yTitleY: 686, captionX: 678, captionY: 1535, dashOffset: 0,
  legendLineX1: 791, legendLineX2: 931, legendY1: 147, legendY2: 224, legendTextX: 944 }, panelAXz, panelAYz, panelACross);

drawPanel({ id: 'b', left: 1518, right: 2499, top: 58, bottom: 1235, yTick: 18, yLabelX: 1494, xLabelY: 1300,
  xTitleX: 2008, xTitleY: 1401, yTitleX: 1394, yTitleY: 646, captionX: 2004, captionY: 1528, dashOffset: 0,
  legendLineX1: 2100, legendLineX2: 2239, legendY1: 136, legendY2: 213, legendTextX: 2251 }, panelBXz, panelBYz, panelBCross);

drawPanel({ id: 'c', left: 2833, right: 3814, top: 57, bottom: 1234, yTick: 26, yLabelX: 2800, xLabelY: 1299,
  xTitleX: 3321, xTitleY: 1404, yTitleX: 2695, yTitleY: 645, captionX: 3326, captionY: 1535, dashOffset: 0,
  legendLineX1: 3418, legendLineX2: 3556, legendY1: 134, legendY2: 213, legendTextX: 3570 }, panelCXz, panelCYz, panelCCross);
</script>
</body>
</html>
